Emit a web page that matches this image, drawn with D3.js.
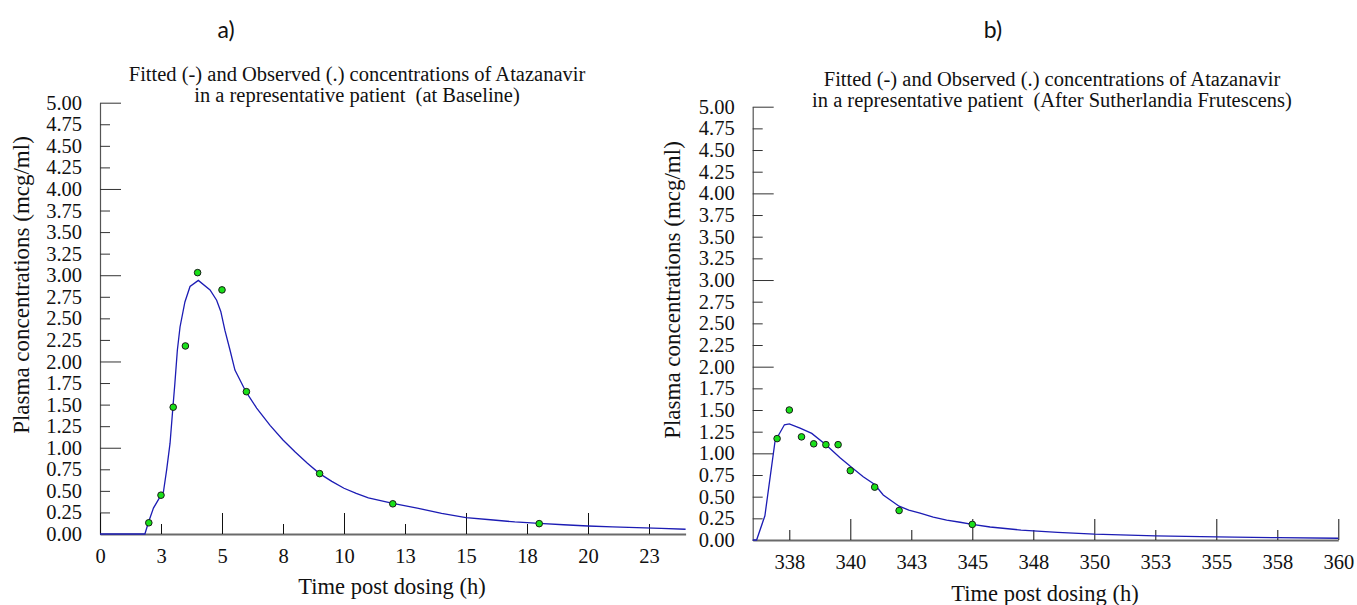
<!DOCTYPE html>
<html>
<head>
<meta charset="utf-8">
<script src="https://cdn.jsdelivr.net/npm/d3@7"></script>
<style>
  body { margin: 0; background: #fff; }
  svg { display: block; }
</style>
</head>
<body>
<div id="chart"></div>
<script>
// concentration axis (mcg/ml), shared by both panels
const concTicks = [0, 0.25, 0.5, 0.75, 1, 1.25, 1.5, 1.75, 2, 2.25, 2.5, 2.75, 3, 3.25, 3.5, 3.75, 4, 4.25, 4.5, 4.75, 5];

// panel a) baseline
const baseTicks = [0, 2.5, 5, 7.5, 10, 12.5, 15, 17.5, 20, 22.5];
const baseTickLabels = ['0', '3', '5', '8', '10', '13', '15', '18', '20', '23'];
const baseObsTime = [2.0, 2.5, 3.0, 3.5, 4.0, 5.0, 6.0, 9.0, 12.0, 18.0];
const baseObsConc = [0.13, 0.45, 1.47, 2.18, 3.03, 2.83, 1.65, 0.70, 0.35, 0.12];
const baseFitTime = [0, 1.84, 1.98, 2.19, 2.46, 2.6, 2.73, 2.87, 2.98, 3.07, 3.17, 3.28, 3.48, 3.69, 4.03, 4.51, 4.78, 4.95, 5.12,
  5.33, 5.53, 5.98, 6.42, 6.97, 7.5, 8, 8.5, 9, 9.5, 10, 10.5, 11, 12, 13, 14, 15, 16, 17, 18, 19, 20, 21, 22, 23, 24];
const baseFitConc = [0, 0, 0.13, 0.3, 0.43, 0.49, 0.74, 1.05, 1.44, 1.75, 2.13, 2.4, 2.69, 2.87, 2.94, 2.83, 2.71, 2.58, 2.36,
  2.13, 1.9, 1.65, 1.46, 1.26, 1.09, 0.95, 0.82, 0.7, 0.61, 0.53, 0.47, 0.42, 0.355, 0.3, 0.24, 0.19, 0.165, 0.14, 0.124, 0.107,
  0.093, 0.083, 0.074, 0.066, 0.055];

// panel b) after Sutherlandia frutescens
const sfTicks = [337.5, 340, 342.5, 345, 347.5, 350, 352.5, 355, 357.5, 360];
const sfTickLabels = ['338', '340', '343', '345', '348', '350', '353', '355', '358', '360'];
const sfObsTime = [337, 337.5, 338, 338.5, 339, 339.5, 340, 341, 342, 345];
const sfObsConc = [1.17, 1.5, 1.19, 1.11, 1.1, 1.1, 0.8, 0.61, 0.34, 0.18];
const sfFitTime = [336, 336.16, 336.5, 336.91, 337, 337.3, 337.5, 337.94, 338.42, 339, 339.58, 340, 340.53, 341, 341.35, 342,
  342.4, 342.86, 343.4, 343.95, 344.5, 345, 345.73, 347, 348.5, 350, 352.5, 355, 357.5, 360];
const sfFitConc = [0, 0, 0.28, 1.13, 1.18, 1.33, 1.34, 1.29, 1.23, 1.1, 0.95, 0.85, 0.73, 0.64, 0.52, 0.39,
  0.345, 0.31, 0.265, 0.23, 0.205, 0.18, 0.15, 0.115, 0.088, 0.067, 0.048, 0.036, 0.027, 0.02];

const W = 1357, H = 605;
const serif = "'Liberation Serif', 'Times New Roman', serif";

const svg = d3.select('#chart').append('svg').attr('width', W).attr('height', H);

function drawPanel(p) {
  const x = d3.scaleLinear().domain(p.xDomain).range([p.left, p.right]);
  const y = d3.scaleLinear().domain([0, 5]).range([p.bottom, p.top]);
  const g = svg.append('g');

  // y axis, ticks drawn inward
  const yAxis = g.append('g')
    .attr('transform', `translate(${p.left},0)`)
    .call(d3.axisLeft(y).tickValues(concTicks).tickFormat(d3.format('.2f')).tickSizeInner(-10).tickSizeOuter(0).tickPadding(18));
  yAxis.attr('font-family', serif).attr('font-size', 20.5);
  yAxis.select('.domain').attr('stroke', '#555').attr('stroke-width', 1.2);
  yAxis.selectAll('.tick line')
    .attr('x2', (d) => (d % 1 === 0 ? 21 : 10))
    .attr('stroke', '#333');
  yAxis.selectAll('.tick text').attr('fill', '#111');

  // x axis
  const xAxis = g.append('g')
    .attr('transform', `translate(0,${p.bottom})`)
    .call(d3.axisBottom(x).tickValues(p.ticks).tickFormat((d, i) => p.labels[i]).tickSizeInner(-10).tickSizeOuter(0).tickPadding(12));
  xAxis.attr('font-family', serif).attr('font-size', 20.5);
  xAxis.select('.domain').attr('stroke', '#6a6a6a').attr('stroke-width', 2);
  xAxis.selectAll('.tick line')
    .attr('y2', (d) => (d % 5 === 0 ? -21 : -10))
    .attr('stroke', '#111');
  xAxis.selectAll('.tick text').attr('dy', '0.85em').attr('fill', '#111');

  // fitted line
  const fit = p.fitTime.map((t, i) => [t, p.fitConc[i]]);
  g.append('path')
    .datum(fit)
    .attr('fill', 'none')
    .attr('stroke', '#1c1cb4')
    .attr('stroke-width', 1.3)
    .attr('d', d3.line().x((d) => x(d[0])).y((d) => y(d[1])));

  // observed points
  const obs = p.obsTime.map((t, i) => [t, p.obsConc[i]]);
  g.selectAll('circle.obs')
    .data(obs)
    .join('circle')
    .attr('class', 'obs')
    .attr('cx', (d) => x(d[0]))
    .attr('cy', (d) => y(d[1]))
    .attr('r', 3.3)
    .attr('fill', '#19e019')
    .attr('stroke', '#1a1a1a')
    .attr('stroke-width', 1);

  // titles
  const title = g.append('text')
    .attr('text-anchor', 'middle')
    .attr('font-family', serif)
    .attr('font-size', 20.5)
    .attr('fill', '#111');
  title.append('tspan').attr('x', p.titleX).attr('y', p.titleY).text('Fitted (-) and Observed (.) concentrations of Atazanavir');
  title.append('tspan').attr('x', p.titleX).attr('y', p.titleY + 21).attr('xml:space', 'preserve').text(p.subtitle);

  g.append('text')
    .attr('x', p.panelX)
    .attr('y', 38)
    .attr('text-anchor', 'middle')
    .attr('font-family', "Lato, 'Open Sans', sans-serif")
    .attr('font-size', 23)
    .attr('fill', '#111')
    .text(p.panel);

  g.append('text')
    .attr('transform', `translate(${p.yLabelX},${p.yLabelY}) rotate(-90)`)
    .attr('text-anchor', 'middle')
    .attr('font-family', serif)
    .attr('font-size', 23)
    .attr('fill', '#111')
    .text('Plasma concentrations (mcg/ml)');

  g.append('text')
    .attr('x', p.xLabelX)
    .attr('y', p.xLabelY)
    .attr('text-anchor', 'middle')
    .attr('font-family', serif)
    .attr('font-size', 22.5)
    .attr('fill', '#111')
    .text('Time post dosing (h)');
}

drawPanel({
  xDomain: [0, 24], left: 100, right: 685.6, top: 102.7, bottom: 534,
  ticks: baseTicks, labels: baseTickLabels,
  fitTime: baseFitTime, fitConc: baseFitConc, obsTime: baseObsTime, obsConc: baseObsConc,
  titleX: 357, titleY: 81, subtitle: 'in a representative patient  (at Baseline)',
  panel: 'a)', panelX: 226,
  yLabelX: 29, yLabelY: 285, xLabelX: 392, xLabelY: 594,
});

drawPanel({
  xDomain: [336, 360], left: 752.7, right: 1338.3, top: 106.7, bottom: 540,
  ticks: sfTicks, labels: sfTickLabels,
  fitTime: sfFitTime, fitConc: sfFitConc, obsTime: sfObsTime, obsConc: sfObsConc,
  titleX: 1052, titleY: 86, subtitle: 'in a representative patient  (After Sutherlandia Frutescens)',
  panel: 'b)', panelX: 993,
  yLabelX: 680, yLabelY: 290, xLabelX: 1045, xLabelY: 601,
});
</script>
</body>
</html>
